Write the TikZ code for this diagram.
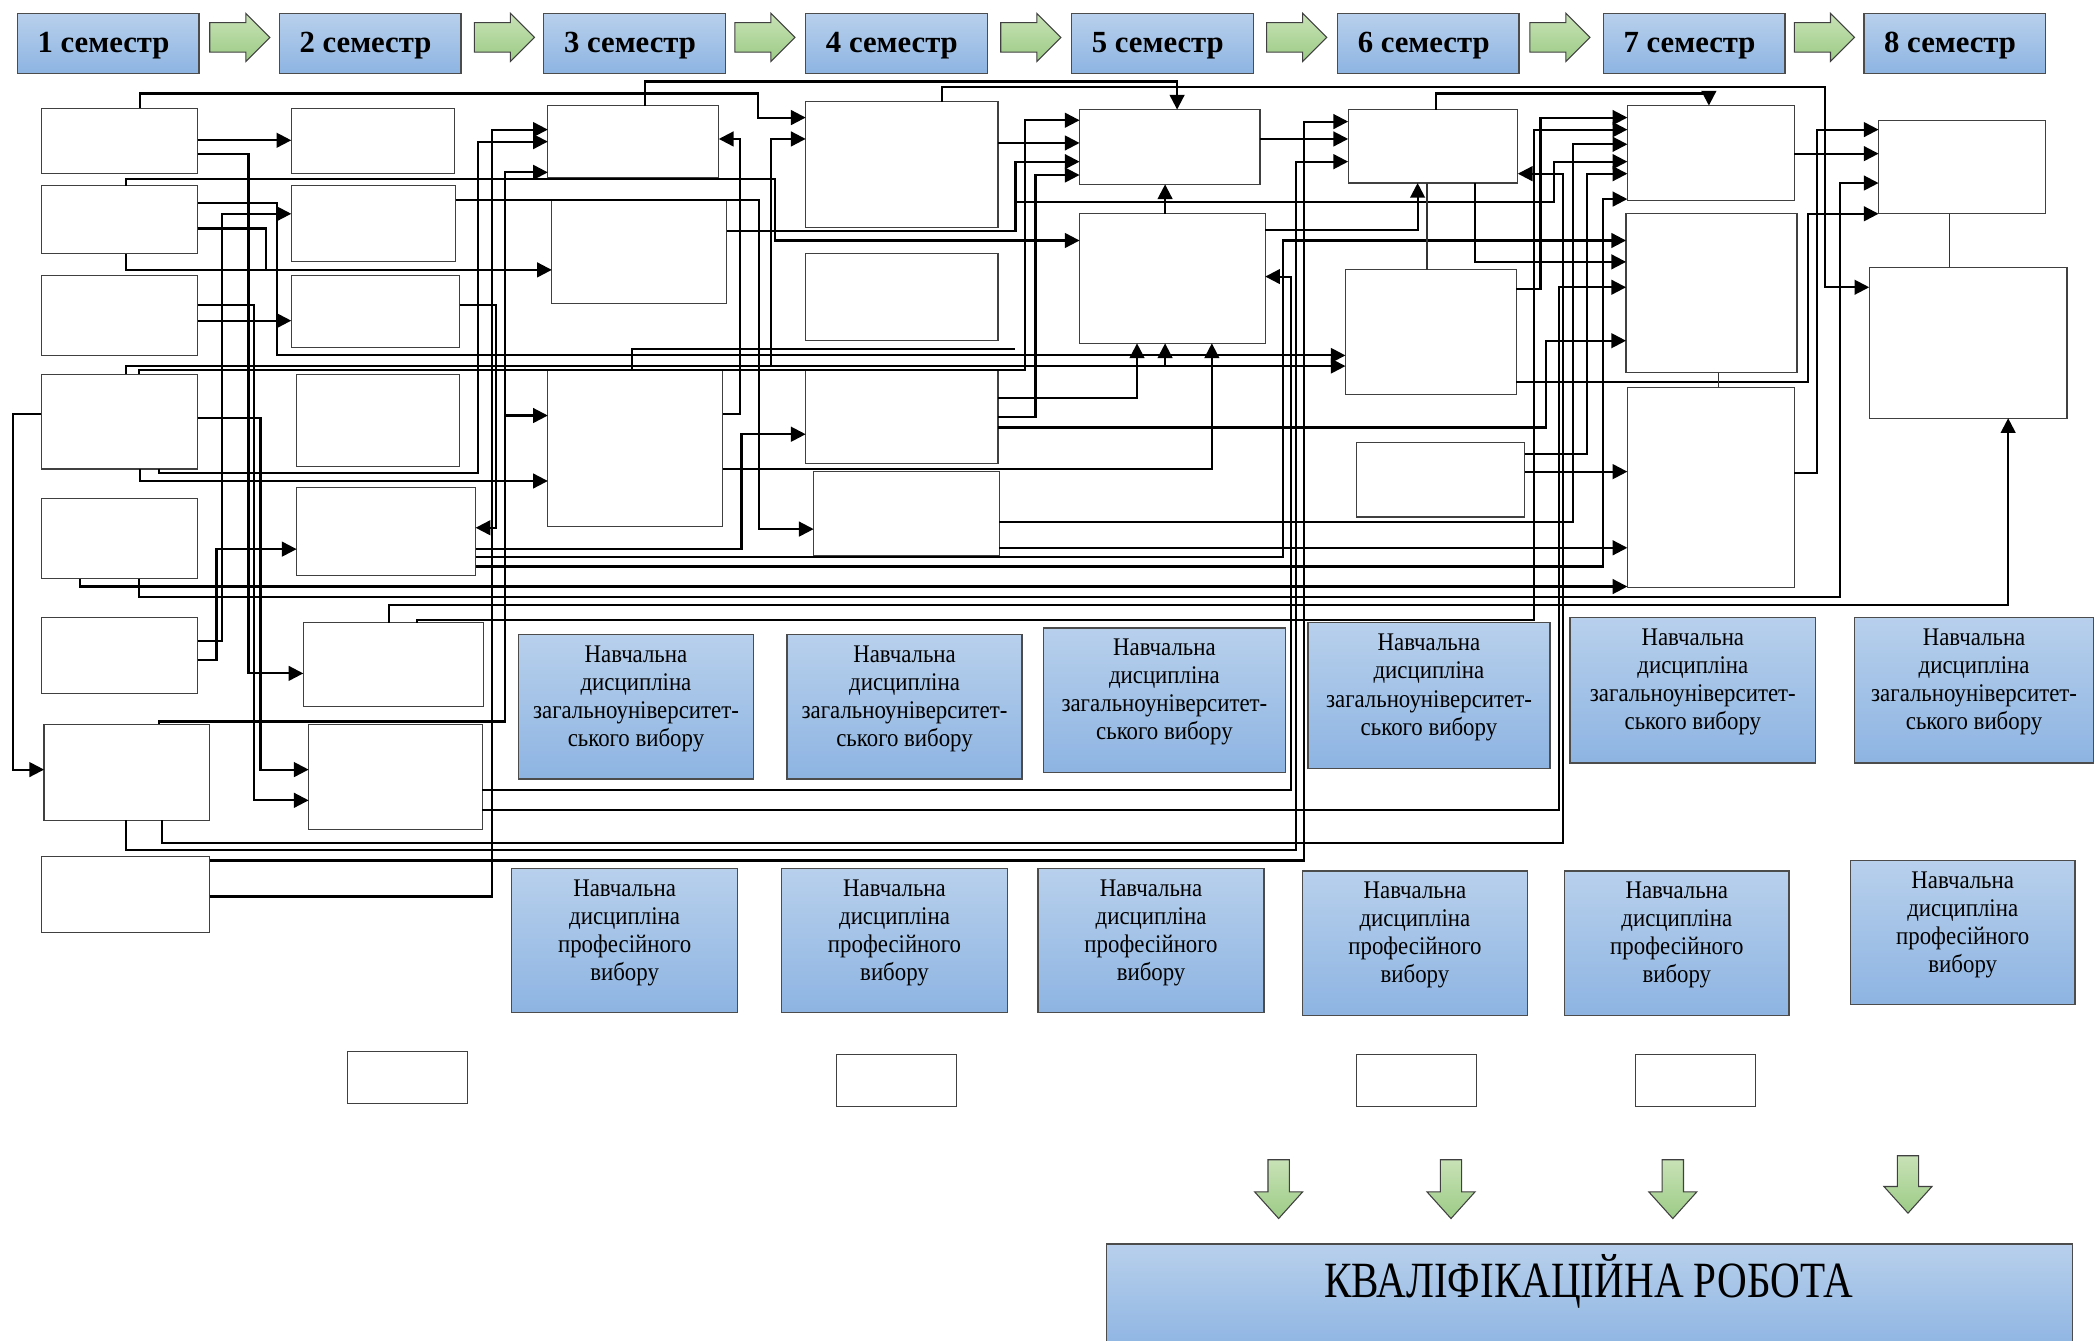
\documentclass[tikz,border=0pt]{standalone}
\usepackage{fontspec}
\setmainfont{Liberation Serif}
\newfontfamily\condf[FakeStretch=0.9]{Liberation Serif}
\newfontfamily\titlef[FakeStretch=0.81]{Liberation Serif}
\usetikzlibrary{arrows.meta}
\definecolor{btop}{HTML}{B8D0EC}
\definecolor{bbot}{HTML}{8DB4E2}
\definecolor{gtop}{HTML}{C8E2B6}
\definecolor{gbot}{HTML}{9CCB86}
\newcommand\wb[5]{\node[wbox,anchor=north west,minimum width=#4pt-#2pt,minimum height=#5pt-#3pt] (#1) at (#2,#3) {};}
\newcommand\bluebox[6]{\node[bbox,anchor=north west,minimum width=#4pt-#2pt,minimum height=#5pt-#3pt] (#1) at (#2,#3) {};
  \node[btext] (#1t) at ([yshift=6pt]#1.center) {#6};}
\newcommand\semhead[3]{\node[bbox,anchor=north west,minimum width=136pt,minimum height=45pt] (#1) at (#2,10) {};
  \node[htext,anchor=west] (#1t) at ([xshift=15pt,yshift=-1.5pt]#1.west) {#3};}
\newcommand\rgarrow[1]{\draw[garr] (#1,17) -- ({#1+27},17) -- ({#1+27},10) -- ({#1+45},28) -- ({#1+27},46) -- ({#1+27},39) -- (#1,39) -- cycle;}
\newcommand\dgarrow[3]{\draw[garr] ({#1-8},#2) -- ({#1+8},#2) -- ({#1+8},{#3-20}) -- ({#1+18},{#3-20}) -- (#1,#3) -- ({#1-18},{#3-20}) -- ({#1-8},{#3-20}) -- cycle;}
\begin{document}
\begin{tikzpicture}[x=1pt,y=-1pt,
  wbox/.style={draw=black!75,line width=0.9pt,fill=white,inner sep=0pt,outer sep=0pt},
  bbox/.style={draw=black!70,line width=1pt,top color=btop,bottom color=bbot,inner sep=0pt,outer sep=0pt},
  btext/.style={align=center,font=\condf\fontsize{19}{21}\selectfont,inner sep=0pt},
  htext/.style={font=\fontsize{23}{25}\selectfont\bfseries,inner sep=0pt},
  garr/.style={draw=black!75,line width=0.8pt,top color=gtop,bottom color=gbot},
  conn/.style={line width=1.6pt,black,line join=miter},
  arr/.style={conn,-{Triangle[length=11pt,width=11pt]}},
  thinl/.style={line width=0.8pt,black!80}]
\useasboundingbox (0,0) rectangle (1568,1003);
\fill[white] (0,0) rectangle (1568,1003);
% semester headers
\semhead{h1}{13}{1 семестр}
\semhead{h2}{209}{2 семестр}
\semhead{h3}{407}{3 семестр}
\semhead{h4}{603}{4 семестр}
\semhead{h5}{802}{5 семестр}
\semhead{h6}{1001}{6 семестр}
\semhead{h7}{1200}{7 семестр}
\semhead{h8}{1395}{8 семестр}
\rgarrow{157}\rgarrow{355}\rgarrow{550}\rgarrow{749}\rgarrow{948}\rgarrow{1145}\rgarrow{1343}
% white boxes
\wb{A1}{31}{81}{148}{130}
\wb{A2}{31}{139}{148}{190}
\wb{A3}{31}{206}{148}{266}
\wb{A4}{31}{280}{148}{351}
\wb{A5}{31}{373}{148}{433}
\wb{A6}{31}{462}{148}{519}
\wb{A7}{33}{542}{157}{614}
\wb{A8}{31}{641}{157}{698}
\wb{B1}{218}{81}{340}{130}
\wb{B2}{218}{139}{341}{196}
\wb{B3}{218}{206}{344}{260}
\wb{B4}{222}{280}{344}{349}
\wb{B5}{222}{365}{356}{431}
\wb{B6}{227}{466}{362}{529}
\wb{B7}{231}{542}{361}{621}
\wb{C1}{410}{79}{538}{133}
\wb{C2}{413}{150}{544}{227}
\wb{C3}{410}{277}{541}{394}
\wb{D1}{603}{76}{747}{170}
\wb{D2}{603}{190}{747}{255}
\wb{D3}{603}{277}{747}{347}
\wb{D4}{609}{353}{748}{416}
\wb{E1}{808}{82}{943}{138}
\wb{E2}{808}{160}{947}{257}
\wb{F1}{1009}{82}{1136}{137}
\wb{F2}{1007}{202}{1135}{295}
\wb{F3}{1015}{331}{1141}{387}
\wb{G1}{1218}{79}{1343}{150}
\wb{G2}{1217}{160}{1345}{279}
\wb{G3}{1218}{290}{1343}{440}
\wb{H1}{1406}{90}{1531}{160}
\wb{H2}{1399}{200}{1547}{313}
\wb{S1}{260}{787}{350}{826}
\wb{S2}{626}{789}{716}{828}
\wb{S3}{1015}{789}{1105}{828}
\wb{S4}{1224}{789}{1314}{828}
% blue boxes
\bluebox{U1}{388}{475}{564}{583}{Навчальна\\дисципліна\\загальноуніверситет-\\ського вибору}
\bluebox{U2}{589}{475}{765}{583}{Навчальна\\дисципліна\\загальноуніверситет-\\ського вибору}
\bluebox{U3}{781}{470}{962}{578}{Навчальна\\дисципліна\\загальноуніверситет-\\ського вибору}
\bluebox{U4}{979}{466}{1160}{575}{Навчальна\\дисципліна\\загальноуніверситет-\\ського вибору}
\bluebox{U5}{1175}{462}{1359}{571}{Навчальна\\дисципліна\\загальноуніверситет-\\ського вибору}
\bluebox{U6}{1388}{462}{1567}{571}{Навчальна\\дисципліна\\загальноуніверситет-\\ського вибору}
\bluebox{P1}{383}{650}{552}{758}{Навчальна\\дисципліна\\професійного\\вибору}
\bluebox{P2}{585}{650}{754}{758}{Навчальна\\дисципліна\\професійного\\вибору}
\bluebox{P3}{777}{650}{946}{758}{Навчальна\\дисципліна\\професійного\\вибору}
\bluebox{P4}{975}{652}{1143}{760}{Навчальна\\дисципліна\\професійного\\вибору}
\bluebox{P5}{1171}{652}{1339}{760}{Навчальна\\дисципліна\\професійного\\вибору}
\bluebox{P6}{1385}{644}{1553}{752}{Навчальна\\дисципліна\\професійного\\вибору}
% final work
\node[bbox,anchor=north west,minimum width=723pt,minimum height=80pt] (Q) at (828,931) {};
\node[font=\titlef\fontsize{38}{40}\selectfont,inner sep=0pt] (Qt) at (1189,959) {КВАЛІФІКАЦІЙНА РОБОТА};
\dgarrow{957}{868}{912}\dgarrow{1086}{868}{912}\dgarrow{1252}{868}{912}\dgarrow{1428}{865}{908}
% connectors
\draw[arr] (A1.east|-0,105) -- (B1.west|-0,105);
\draw[arr] (A1.east|-0,115) -| (186,504) -- (B6.west|-0,504);
\draw[arr] (A1.north-|105,0) |- (567,70) |- (D1.west|-0,88);
\draw[arr] (A2.north-|94,0) |- (580,134) |- (E2.west|-0,180);
\draw[arr] (A2.east|-0,152) -| (207,266) -- (F2.west|-0,266);
\draw[arr] (A2.east|-0,171) -| (199,202) -- (C2.west|-0,202);
\draw[conn] (A2.south-|94,0) |- (199,202);
\draw[arr] (A3.east|-0,240) -- (B3.west|-0,240);
\draw[arr] (A3.east|-0,228) -| (190,599) -- (B7.west|-0,599);
\draw[arr] (A4.east|-0,313) -| (195,576) -- (B7.west|-0,576);
\draw[arr] (A4.west|-0,310) -| (10,576) -- (A7.west|-0,576);
\draw[arr] (A4.north-|94,0) |- (F2.west|-0,274);
\draw[arr] (577,274) |- (D1.west|-0,104);
\draw[arr] (872,274) -- (E2.south-|872,0);
\draw[arr] (A4.north-|104,0) |- (767,277) |- (E1.west|-0,90);
\draw[arr] (A4.south-|105,0) |- (C3.west|-0,360);
\draw[arr] (A4.south-|119,0) |- (358,354) |- (C1.west|-0,106);
\draw[arr] (A5.south-|60,0) |- (G3.west|-0,439);
\draw[arr] (A5.south-|104,0) |- (1377,447) |- (H1.west|-0,137);
\draw[arr] (A6.east|-0,480) -| (166,160) -- (B2.west|-0,160);
\draw[arr] (A6.east|-0,494) -| (162,411) -- (B5.west|-0,411);
\draw[arr] (A7.north-|119,0) |- (378,540) |- (C1.west|-0,129);
\draw[arr] (378,311) -- (C3.west|-0,311);
\draw[arr] (A7.south-|121,0) |- (1170,631) |- (F1.east|-0,130);
\draw[arr] (A7.south-|94,0) |- (970,636) |- (F1.west|-0,121);
\draw[arr] (A8.east|-0,644) -| (976,91) -- (F1.west|-0,91);
\draw[arr] (A8.east|-0,671) -| (368,97) -- (C1.west|-0,97);
\draw[arr] (B2.east|-0,150) -| (568,396) -- (D4.west|-0,396);
\draw[arr] (B3.east|-0,228) -| (371,395) -- (B5.east|-0,395);
\draw[arr] (B5.east|-0,411) -| (555,325) -- (D3.west|-0,325);
\draw[arr] (B5.east|-0,417) -| (960,180) -- (G2.west|-0,180);
\draw[arr] (B5.east|-0,424) -| (1200,149) -- (G1.west|-0,149);
\draw[arr] (B6.north-|291,0) |- (1503,453) -- (H2.south-|1503,0);
\draw[arr] (B6.north-|312,0) |- (1148,464) |- (G1.west|-0,97);
\draw[arr] (B7.east|-0,591) -| (966,207) -- (E2.east|-0,207);
\draw[arr] (B7.east|-0,606) -| (1167,215) -- (G2.west|-0,215);
\draw[arr] (C1.north-|483,0) |- (881,61) -- (E1.north-|881,0);
\draw[arr] (C2.east|-0,173) -| (760,121) -- (E1.west|-0,121);
\draw[conn] (C3.north-|473,0) |- (760,261);
\draw[arr] (760,151) -| (1163,121) -- (G1.west|-0,121);
\draw[arr] (C3.east|-0,310) -| (554,104) -- (C1.east|-0,104);
\draw[arr] (C3.east|-0,351) -| (E2.south-|907,0);
\draw[arr] (D1.north-|705,0) |- (1366,65) |- (H2.west|-0,215);
\draw[arr] (D1.east|-0,107) -- (E1.west|-0,107);
\draw[arr] (D3.east|-0,298) -| (E2.south-|851,0);
\draw[arr] (D3.east|-0,312) -| (775,131) -- (E1.west|-0,131);
\draw[arr] (D3.east|-0,320) -| (1157,255) -- (G2.west|-0,255);
\draw[arr] (D4.east|-0,391) -| (1177,108) -- (G1.west|-0,108);
\draw[arr] (D4.east|-0,410) -- (G3.west|-0,410);
\draw[arr] (E1.east|-0,104) -- (F1.west|-0,104);
\draw[arr] (E2.north-|872,0) -- (E1.south-|872,0);
\draw[arr] (E2.east|-0,172) -| (F1.south-|1061,0);
\draw[arr] (F1.north-|1075,0) |- (1279,70) -- (G1.north-|1279,0);
\draw[arr] (F1.south-|1104,0) |- (G2.west|-0,196);
\draw[thinl] (F1.south-|1068,0) -- (F2.north-|1068,0);
\draw[arr] (F2.east|-0,216) -| (1153,88) -- (G1.west|-0,88);
\draw[arr] (F2.east|-0,286) -| (1353,160) -- (H1.west|-0,160);
\draw[arr] (F3.east|-0,340) -| (1188,130) -- (G1.west|-0,130);
\draw[arr] (F3.east|-0,353) -- (G3.west|-0,353);
\draw[arr] (G1.east|-0,115) -- (H1.west|-0,115);
\draw[thinl] (G2.south-|1286,0) -- (G3.north-|1286,0);
\draw[arr] (G3.east|-0,354) -| (1360,97) -- (H1.west|-0,97);
\draw[thinl] (H1.south-|1459,0) -- (H2.north-|1459,0);
\end{tikzpicture}
\end{document}
